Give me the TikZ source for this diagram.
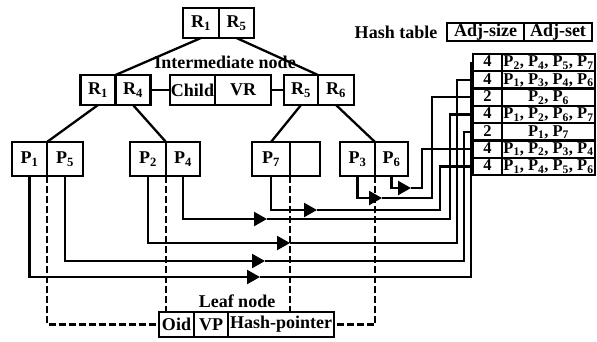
\documentclass[tikz,border=0pt]{standalone}
\usepackage{fontspec}
\setmainfont{Liberation Serif}
\usetikzlibrary{positioning, arrows.meta}
\newcommand{\Pn}[1]{P\textsubscript{#1}}
\newcommand{\Rn}[1]{R\textsubscript{#1}}

\begin{document}
\begin{tikzpicture}[x=1pt, y=-1pt,
  cell/.style={draw, line width=2.3pt, minimum height=30pt, inner sep=0pt, outer sep=0pt, font=\fontsize{18}{20}\selectfont\bfseries},
  tcell/.style={draw, line width=2.3pt, minimum height=17.3pt, inner sep=0pt, outer sep=0pt, text height=11.5pt, text depth=3pt, font=\fontsize{16.5}{18}\selectfont\bfseries},
  label/.style={inner sep=0pt, font=\fontsize{18}{20}\selectfont\bfseries},
  link/.style={line width=2.3pt},
  dlink/.style={line width=2.3pt, dash pattern=on 7pt off 3pt}]

\useasboundingbox (0,0) rectangle (597,341);

% root and intermediate nodes
\node[cell, minimum width=36pt] (rt1) at (201,23) {\Rn{1}};
\node[cell, minimum width=35pt, right=0pt of rt1] (rt2) {\Rn{5}};

\node[cell, minimum width=35pt] (il1) at (98,90) {\Rn{1}};
\node[cell, minimum width=35pt, right=0pt of il1] (il2) {\Rn{4}};
\node[cell, minimum width=45pt] (ch) at (192.5,90) {Child};
\node[cell, minimum width=56pt, right=0pt of ch] (vr) {VR};
\node[cell, minimum width=34pt] (ir1) at (301,90) {\Rn{5}};
\node[cell, minimum width=36pt, right=0pt of ir1] (ir2) {\Rn{6}};

\node[label] (inter) at (225,62) {Intermediate node};

% leaf nodes
\node[cell, minimum height=34pt, minimum width=35pt] (p1) at (29.5,159) {\Pn{1}};
\node[cell, minimum height=34pt, minimum width=36pt, right=0pt of p1] (p5) {\Pn{5}};
\node[cell, minimum height=34pt, minimum width=36pt] (p2) at (148,159) {\Pn{2}};
\node[cell, minimum height=34pt, minimum width=34pt, right=0pt of p2] (p4) {\Pn{4}};
\node[cell, minimum height=34pt, minimum width=38pt] (p7) at (271,159) {\Pn{7}};
\node[cell, minimum height=34pt, minimum width=30pt, right=0pt of p7] (pe) {};
\node[cell, minimum height=34pt, minimum width=35pt] (p3) at (357.5,159) {\Pn{3}};
\node[cell, minimum height=34pt, minimum width=33pt, right=0pt of p3] (p6) {\Pn{6}};

% leaf entry
\node[cell, minimum height=25pt, minimum width=35pt] (oid) at (176.5,324.5) {Oid};
\node[cell, minimum height=25pt, minimum width=34pt, right=0pt of oid] (vp) {VP};
\node[cell, minimum height=25pt, minimum width=106pt, right=0pt of vp] (hp) {Hash-pointer};
\node[label] (leaf) at (237,301) {Leaf node};

% hash table
\node[label] (htab) at (396,32) {Hash table};
\node[cell, minimum height=18pt, minimum width=77pt] (asize) at (485.5,32) {Adj-size};
\node[cell, minimum height=18pt, minimum width=68pt, right=0pt of asize] (aset) {Adj-set};

\foreach \n/\adj [count=\i] in {4/{\Pn{2}, \Pn{4}, \Pn{5}, \Pn{7}},
                                4/{\Pn{1}, \Pn{3}, \Pn{4}, \Pn{6}},
                                2/{\Pn{2}, \Pn{6}},
                                4/{\Pn{1}, \Pn{2}, \Pn{6}, \Pn{7}},
                                2/{\Pn{1}, \Pn{7}},
                                4/{\Pn{1}, \Pn{2}, \Pn{3}, \Pn{4}},
                                4/{\Pn{1}, \Pn{4}, \Pn{5}, \Pn{6}}}
{
  \node[tcell, minimum width=29pt] (h\i) at (487.5,45.35+17.3*\i) {\n};
  \node[tcell, minimum width=93pt, right=0pt of h\i] (s\i) {\adj};
}

% tree edges
\draw[link] (rt1.south) -- (il1.north east);
\draw[link] (rt2.south) -- (ir1.north east);
\draw[link] (il2.east) -- (ch.west);
\draw[link] (vr.east) -- (ir1.west);
\draw[link] (il1.south) -- (p1.north east);
\draw[link] (il2.south) -- (p2.north east);
\draw[link] (ir1.south) -- (p7.north);
\draw[link] (ir2.south) -- (p6.north west);

% points to hash table rows
\foreach \p/\h/\ly/\ax/\vx in {p1/h1/277/260/471, p5/h5/261/265/464, p2/h2/243/290/457,
                               p4/h4/219/267/450, p7/h7/210/317/440, p3/h3/198/382/432,
                               p6/h6/188/411/422}
{
  \draw[link, -{Triangle[length=13pt, width=14pt]}] (\p.south) |- (\ax,\ly);
  \draw[link] (\ax,\ly) -- (\vx,\ly) |- (\h.west);
}

% points to leaf entry
\draw[dlink] (p1.south east) |- (oid.west);
\draw[dlink] (p2.south east) -- (p2.south east |- oid.north);
\draw[dlink] (p7.south east) -- (p7.south east |- hp.north);
\draw[dlink] (p3.south east) |- (hp.east);

\end{tikzpicture}
\end{document}
